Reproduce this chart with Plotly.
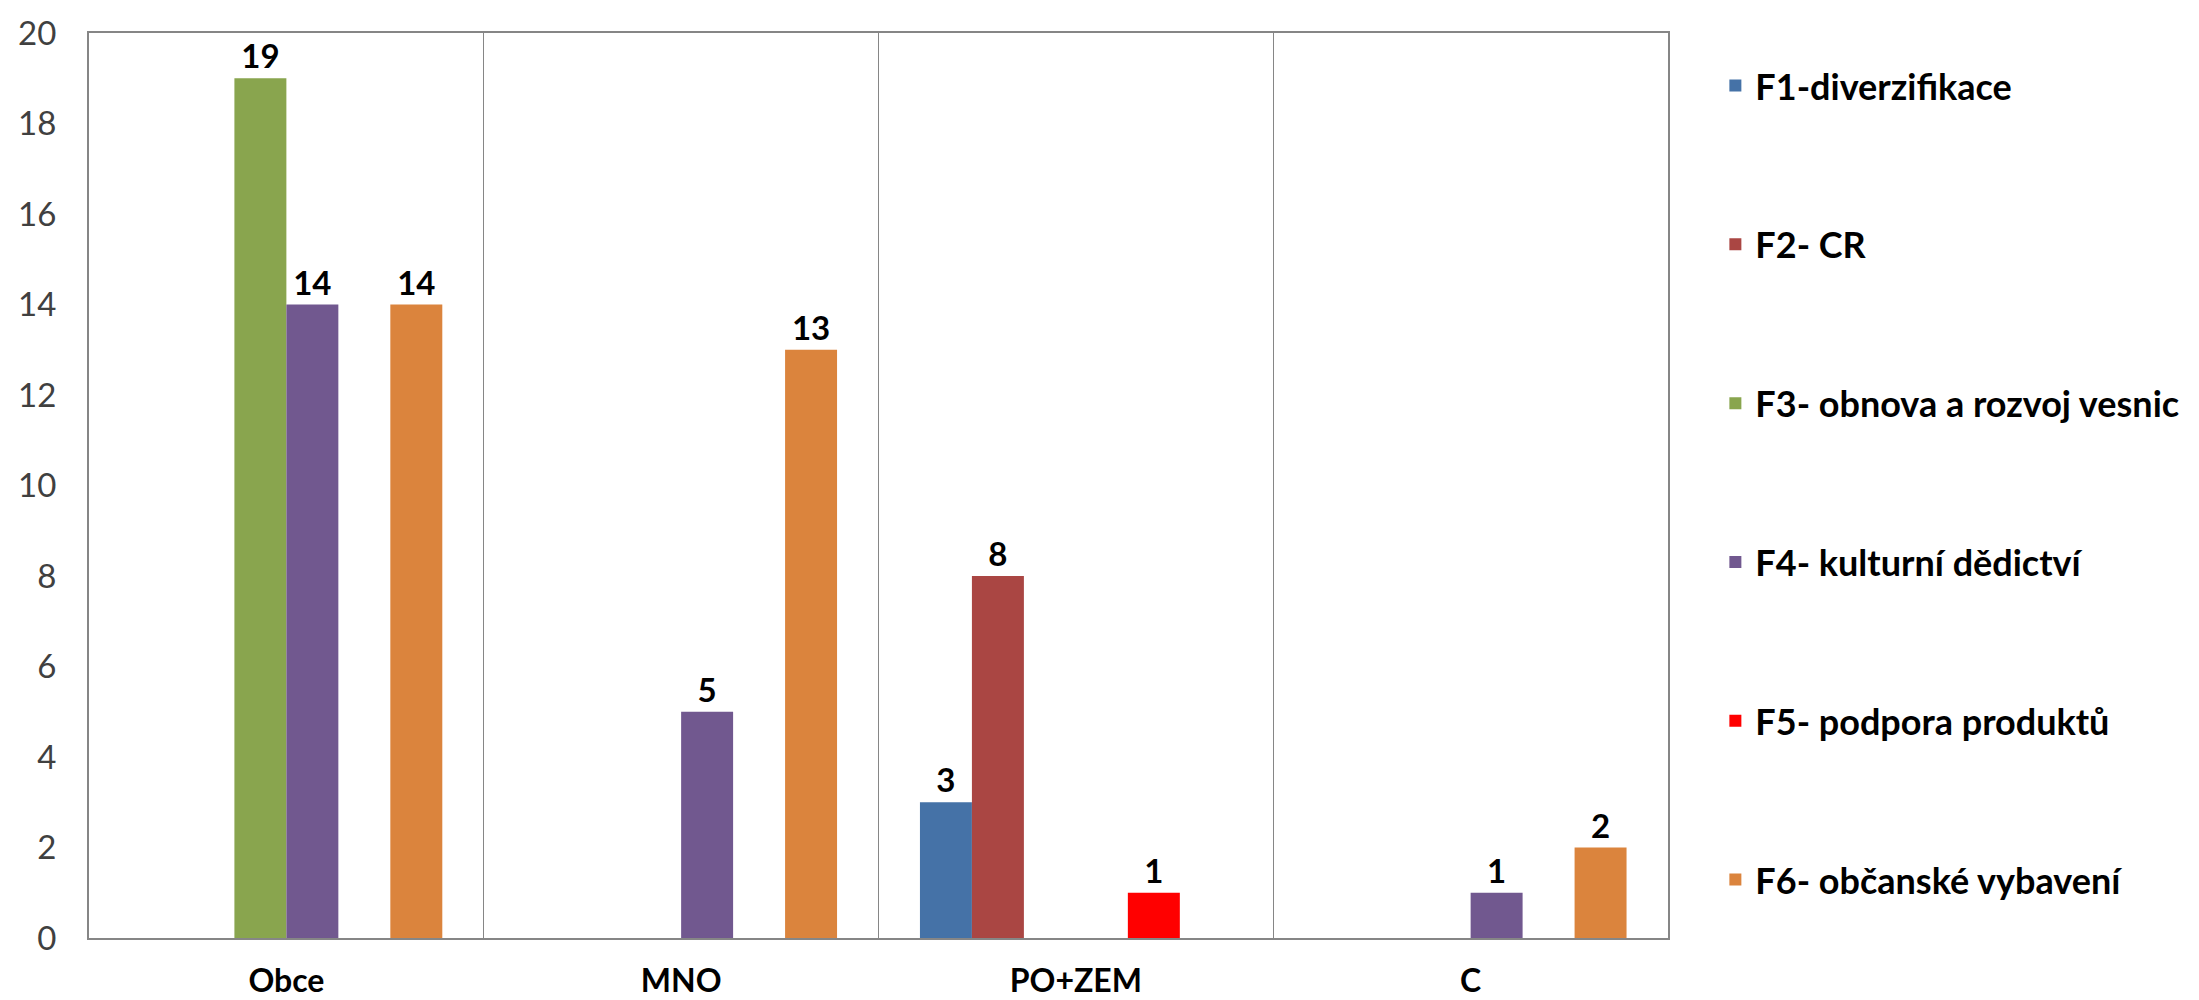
import plotly.graph_objects as go

categories = ["Obce", "MNO", "PO+ZEM", "C"]
series_names = [
    "F1-diverzifikace",
    "F2- CR",
    "F3- obnova a rozvoj vesnic",
    "F4- kulturní dědictví",
    "F5- podpora produktů",
    "F6- občanské vybavení",
]
f1 = [0, 0, 3, 0]
f2 = [0, 0, 8, 0]
f3 = [19, 0, 0, 0]
f4 = [14, 5, 0, 1]
f5 = [0, 0, 1, 0]
f6 = [14, 13, 0, 2]
series_values = [f1, f2, f3, f4, f5, f6]
colors = ["#4572A7", "#AA4643", "#89A54E", "#71588F", "#FF0000", "#DB843D"]
y_ticks = [0, 2, 4, 6, 8, 10, 12, 14, 16, 18, 20]

FONT = "Lato"

fig = go.Figure()
for i, (name, vals, col) in enumerate(zip(series_names, series_values, colors)):
    fig.add_trace(go.Bar(
        x=categories,
        y=vals,
        name=name,
        marker=dict(color=col, line=dict(width=0)),
        text=[str(v) if v else "" for v in vals],
        textposition="outside",
        textfont=dict(family=FONT, size=33, color="#000000", weight="bold"),
        cliponaxis=False,
        legendgroup=f"g{i}",
    ))

fig.update_layout(
    width=2199,
    height=1000,
    barmode="group",
    bargap=0.21,
    bargroupgap=0,
    plot_bgcolor="white",
    paper_bgcolor="white",
    margin=dict(l=81, r=539, t=25, b=70, autoexpand=False),
    font=dict(family=FONT),
    legend=dict(
        x=1.03,
        xanchor="left",
        y=0.975,
        yanchor="top",
        font=dict(family=FONT, size=36, color="#000000", weight="bold"),
        tracegroupgap=109,
        itemwidth=30,
        bgcolor="rgba(0,0,0,0)",
    ),
    xaxis=dict(
        showline=True,
        linecolor="#868686",
        linewidth=2,
        mirror=True,
        tickson="boundaries",
        showgrid=True,
        gridcolor="#868686",
        gridwidth=1,
        ticks="",
        tickfont=dict(family=FONT, size=32, color="#000000", weight="bold"),
        ticklabelstandoff=14,
    ),
    yaxis=dict(
        range=[0, 20],
        tickvals=y_ticks,
        showline=True,
        linecolor="#868686",
        linewidth=2,
        mirror=True,
        showgrid=False,
        zeroline=False,
        ticks="",
        tickfont=dict(family=FONT, size=33, color="#404040"),
        ticklabelstandoff=24,
    ),
)

fig.write_html("out.html")
